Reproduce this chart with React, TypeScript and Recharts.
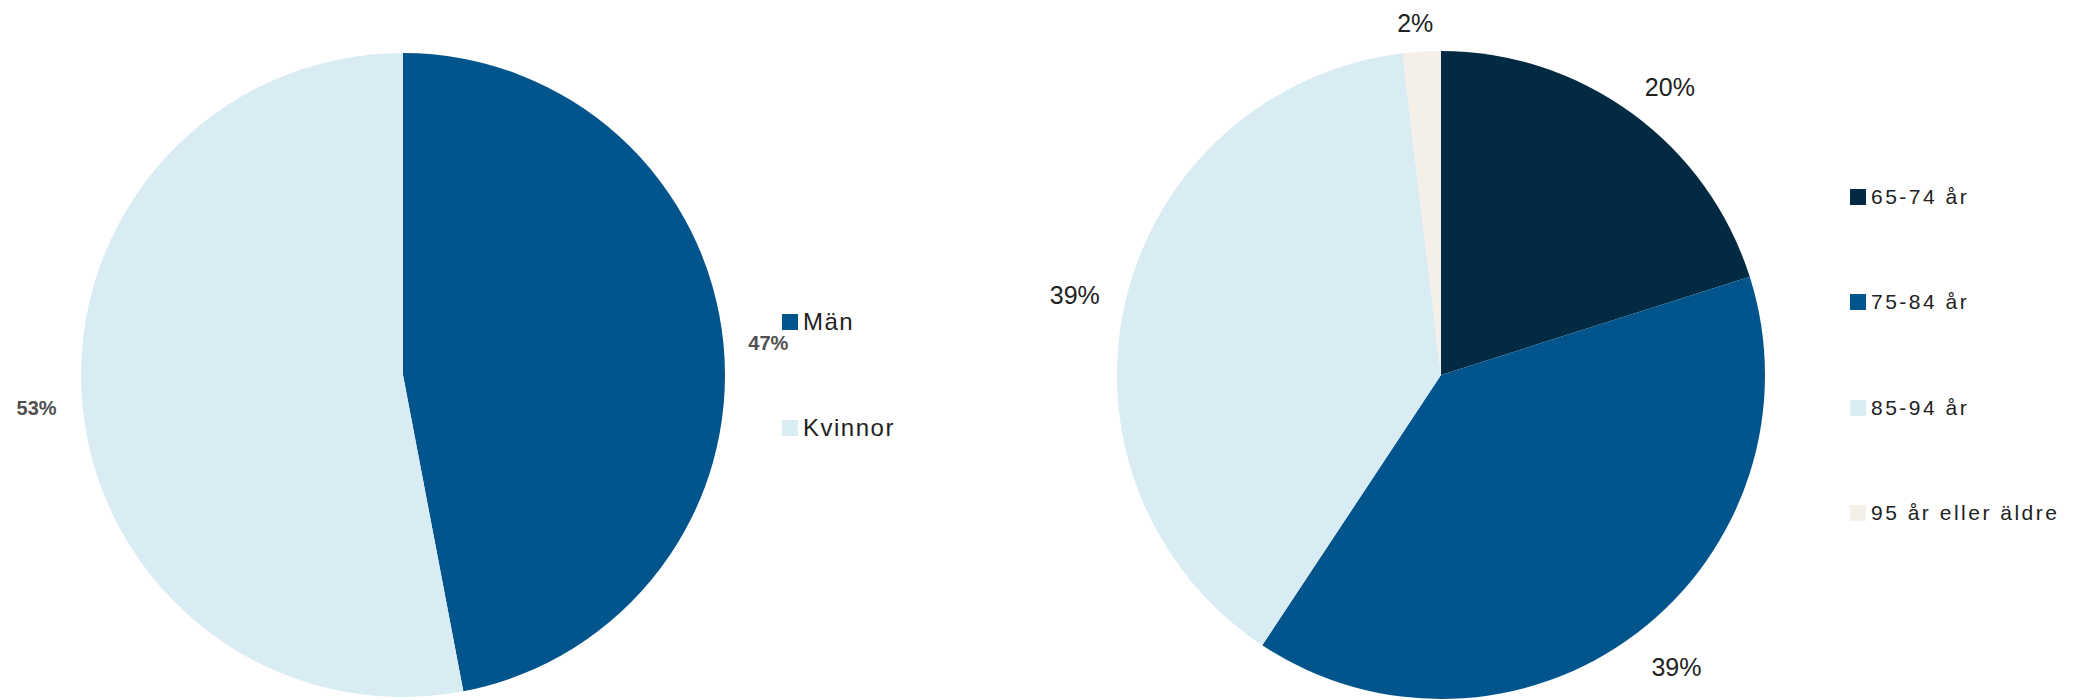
import { PieChart, Pie, Cell } from "recharts";

const GENDER_LABELS = ["Män", "Kvinnor"];
const GENDER_VALUES = [47, 53];
const GENDER_COLORS = ["#02558c", "#d9ecf4"];

const AGE_LABELS = ["65-74 år", "75-84 år", "85-94 år", "95 år eller äldre"];
const AGE_VALUES = [20.1, 39.2, 38.8, 1.9];
const AGE_COLORS = ["#022a43", "#02558c", "#d9ecf4", "#f4f0e8"];

// small label nudges (Excel-style placement), in px
const GENDER_NUDGE = [
  [1, 2],
  [-2, -1],
];
const AGE_NUDGE = [
  [14, 6],
  [16, 2],
  [-12, 4],
  [-4, 11],
];

const genderData = GENDER_LABELS.map((name, i) => ({ name, value: GENDER_VALUES[i] }));
const ageData = AGE_LABELS.map((name, i) => ({ name, value: AGE_VALUES[i] }));

const RAD = Math.PI / 180;

function makeLabel(offset: number, nudge: number[][], style: React.CSSProperties) {
  return (props: any) => {
    const { cx, cy, midAngle, outerRadius, percent, index } = props;
    const r = outerRadius + offset;
    const [nx, ny] = nudge[index] ?? [0, 0];
    const x = cx + r * Math.cos(-midAngle * RAD) + nx;
    const y = cy + r * Math.sin(-midAngle * RAD) + ny;
    return (
      <text
        x={x}
        y={y}
        textAnchor="middle"
        dominantBaseline="central"
        style={style}
      >
        {`${Math.round(percent * 100)}%`}
      </text>
    );
  };
}

function LegendBox({
  labels,
  colors,
  left,
  tops,
  fontSize,
  spacing,
}: {
  labels: string[];
  colors: string[];
  left: number;
  tops: number[];
  fontSize: number;
  spacing: number;
}) {
  return (
    <>
      {labels.map((l, i) => (
        <div
          key={l}
          style={{
            position: "absolute",
            left,
            top: tops[i],
            transform: "translateY(-50%)",
            display: "flex",
            alignItems: "center",
            fontFamily: "'Liberation Sans', Arial, sans-serif",
            fontSize,
            letterSpacing: spacing,
            color: "#222",
            whiteSpace: "nowrap",
          }}
        >
          <span
            style={{
              display: "inline-block",
              width: 16,
              height: 16,
              background: colors[i],
              marginRight: 5,
            }}
          />
          {l}
        </div>
      ))}
    </>
  );
}

export default function App() {
  return (
    <div
      style={{
        position: "absolute",
        left: 0,
        top: 0,
        width: 2079,
        height: 700,
        background: "#fff",
        overflow: "hidden",
      }}
    >
      <PieChart width={2079} height={700} margin={{ top: 0, right: 0, bottom: 0, left: 0 }}>
        <Pie
          data={genderData}
          dataKey="value"
          nameKey="name"
          cx={403}
          cy={375}
          outerRadius={322}
          startAngle={90}
          endAngle={-270}
          stroke="none"
          labelLine={false}
          label={makeLabel(44, GENDER_NUDGE, {
            fontFamily: "'Liberation Sans', Arial, sans-serif",
            fontSize: 20,
            fontWeight: 700,
            fill: "#505050",
          })}
          isAnimationActive={false}
        >
          {genderData.map((_, i) => (
            <Cell key={i} fill={GENDER_COLORS[i]} />
          ))}
        </Pie>
        <Pie
          data={ageData}
          dataKey="value"
          nameKey="name"
          cx={1441}
          cy={375}
          outerRadius={324}
          startAngle={90}
          endAngle={-270}
          stroke="none"
          labelLine={false}
          label={makeLabel(40, AGE_NUDGE, {
            fontFamily: "'Liberation Sans', Arial, sans-serif",
            fontSize: 25,
            fill: "#222",
          })}
          isAnimationActive={false}
        >
          {ageData.map((_, i) => (
            <Cell key={i} fill={AGE_COLORS[i]} />
          ))}
        </Pie>
      </PieChart>
      <LegendBox
        labels={GENDER_LABELS}
        colors={GENDER_COLORS}
        left={782}
        tops={[322, 428]}
        fontSize={24}
        spacing={1.5}
      />
      <LegendBox
        labels={AGE_LABELS}
        colors={AGE_COLORS}
        left={1850}
        tops={[197, 302, 408, 513]}
        fontSize={21}
        spacing={2.5}
      />
    </div>
  );
}
